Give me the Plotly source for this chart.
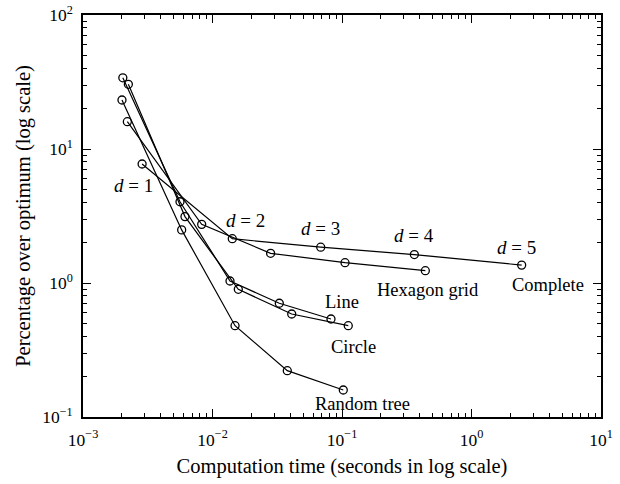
import math
import plotly.graph_objects as go

# ---- data ----
series_names = ["Complete", "Hexagon grid", "Line", "Circle", "Random tree"]

complete_t = [0.00286, 0.01422, 0.0685, 0.362, 2.44]
complete_v = [7.73, 2.14, 1.85, 1.63, 1.36]

hexagon_t = [0.00220, 0.00825, 0.0281, 0.1055, 0.440]
hexagon_v = [15.98, 2.74, 1.666, 1.418, 1.235]

line_t = [0.00203, 0.00561, 0.01365, 0.0328, 0.0822]
line_v = [34.0, 4.04, 1.035, 0.706, 0.5385]

circle_t = [0.00224, 0.00613, 0.01582, 0.0409, 0.1118]
circle_v = [30.4, 3.13, 0.897, 0.587, 0.480]

tree_t = [0.00200, 0.00578, 0.01493, 0.0378, 0.1023]
tree_v = [23.2, 2.49, 0.480, 0.2216, 0.159]

d_labels = ["d = 1", "d = 2", "d = 3", "d = 4", "d = 5"]

x_tickvals = [1e-3, 1e-2, 1e-1, 1e0, 1e1]
x_ticktext = ["10<sup>−3</sup>", "10<sup>−2</sup>", "10<sup>−1</sup>", "10<sup>0</sup>", "10<sup>1</sup>"]
y_tickvals = [1e-1, 1e0, 1e1, 1e2]
y_ticktext = ["10<sup>−1</sup>", "10<sup>0</sup>", "10<sup>1</sup>", "10<sup>2</sup>"]

FONT = "Liberation Serif, Times New Roman, serif"

fig = go.Figure()
for name, t, v in [("Complete", complete_t, complete_v),
                   ("Hexagon grid", hexagon_t, hexagon_v),
                   ("Line", line_t, line_v),
                   ("Circle", circle_t, circle_v),
                   ("Random tree", tree_t, tree_v)]:
    fig.add_trace(go.Scatter(
        x=t, y=v, mode="lines+markers", name=name,
        line=dict(color="black", width=1.2),
        marker=dict(symbol="circle-open", size=8, color="black", line=dict(width=1.3)),
        showlegend=False, cliponaxis=False))

annotations = []
# d labels attached to the Complete points
d_shifts = [(-9, -22), (13, 18), (0, 19), (0, 19), (-5, 18)]
for lab, t, v, (dx, dy) in zip(d_labels, complete_t, complete_v, d_shifts):
    d, rest = lab.split(" ", 1)
    annotations.append(dict(x=math.log10(t), y=math.log10(v), xref="x", yref="y",
                            showarrow=False,
                            text="<i>" + d + "</i> " + rest, xshift=dx, yshift=dy,
                            font=dict(family=FONT, size=19, color="black")))

name_anchor = [("Complete", complete_t[-1], complete_v[-1], 26, -20),
               ("Hexagon grid", hexagon_t[-1], hexagon_v[-1], 3, -19),
               ("Line", line_t[-1], line_v[-1], 11, 17),
               ("Circle", circle_t[-1], circle_v[-1], 5, -21),
               ("Random tree", tree_t[-1], tree_v[-1], 19, -14)]
for lab, t, v, dx, dy in name_anchor:
    annotations.append(dict(x=math.log10(t), y=math.log10(v), xref="x", yref="y",
                            showarrow=False, text=lab, xshift=dx, yshift=dy,
                            font=dict(family=FONT, size=18.5, color="black")))

axis_common = dict(
    type="log", showgrid=False, zeroline=False, automargin=False,
    showline=True, linecolor="black", linewidth=1.5, mirror="ticks",
    ticks="inside", ticklen=8, tickwidth=1, tickcolor="black",
    minor=dict(ticks="inside", ticklen=4, tickwidth=1, tickcolor="black",
               showgrid=False, dtick="D1"),
    tickfont=dict(family=FONT, size=17.5, color="black"),
    ticklabeloverflow="allow",
)

fig.update_layout(
    width=620, height=484,
    margin=dict(l=83, r=19, t=15, b=67),
    paper_bgcolor="white", plot_bgcolor="white",
    font=dict(family=FONT, color="black"),
    xaxis=dict(range=[-3, 1], tickvals=x_tickvals, ticktext=x_ticktext,
               ticklabelstandoff=6,
               title=dict(text="Computation time (seconds in log scale)",
                          font=dict(family=FONT, size=20.5, color="black"), standoff=10),
               **axis_common),
    yaxis=dict(range=[-1, 2], tickvals=y_tickvals, ticktext=y_ticktext,
               ticklabelstandoff=5,
               title=dict(text="Percentage over optimum (log scale)",
                          font=dict(family=FONT, size=20.5, color="black"), standoff=6),
               **axis_common),
    annotations=annotations,
)

fig.write_html("out.html", config={"displayModeBar": False},
               post_script="document.body.style.margin='0px';")
